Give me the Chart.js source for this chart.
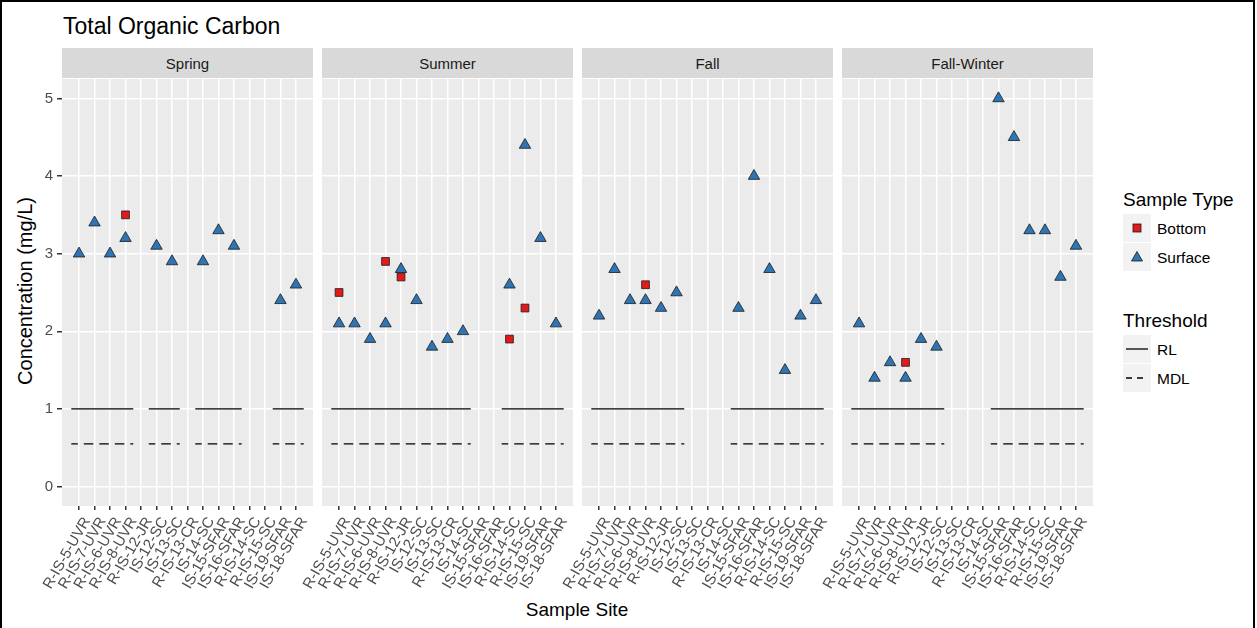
<!DOCTYPE html>
<html>
<head>
<meta charset="utf-8">
<script src="https://cdn.jsdelivr.net/npm/chart.js"></script>
<style>
  body { margin: 0; background: #fff; font-family: "Liberation Sans", Arial, sans-serif; }
  #wrap { position: relative; width: 1257px; height: 628px; overflow: hidden; background: #fff; }
  #frame { position: absolute; left: 0; top: 0; width: 1251px; height: 640px; border: 2px solid #000; }
  canvas { position: absolute; top: 79px; }
  .strip { position: absolute; top: 48px; width: 251px; height: 30px; background: #d9d9d9;
           color: #1a1a1a; font-size: 15px; line-height: 32px; text-align: center; }
  .txt { position: absolute; white-space: nowrap; color: #000; }
  .key { position: absolute; left: 1123px; width: 28px; height: 28px; background: #f2f2f2; }
  .lab { position: absolute; left: 1157px; font-size: 15.5px; line-height: 29px; color: #000; }
</style>
</head>
<body>
<div id="wrap">
  <div id="frame"></div>
  <div class="txt" style="left:63px;top:15px;font-size:23px;line-height:22px;">Total Organic Carbon</div>
  <div class="txt" style="left:-125px;top:281px;width:300px;text-align:center;font-size:20px;line-height:20px;transform:rotate(-90deg);">Concentration (mg/L)</div>
  <div class="txt" style="left:427px;top:600px;width:300px;text-align:center;font-size:19px;line-height:20px;">Sample Site</div>

  <div class="txt" style="left:1123px;top:191px;font-size:19px;line-height:18px;">Sample Type</div>
  <div class="key" style="top:214px;"><svg width="28" height="28"><rect x="10" y="10" width="8" height="8" fill="#e31a1c" stroke="#1a1a1a" stroke-width="0.8"/></svg></div>
  <div class="lab" style="top:214px;">Bottom</div>
  <div class="key" style="top:243px;"><svg width="28" height="28"><polygon points="14,8.5 19.5,18 8.5,18" fill="#2f75b5" stroke="#1a1a1a" stroke-width="0.8"/></svg></div>
  <div class="lab" style="top:243px;">Surface</div>

  <div class="txt" style="left:1123px;top:312px;font-size:19px;line-height:18px;">Threshold</div>
  <div class="key" style="top:335px;"><svg width="28" height="28"><line x1="3" y1="14" x2="25" y2="14" stroke="#000" stroke-width="1.3"/></svg></div>
  <div class="lab" style="top:335px;">RL</div>
  <div class="key" style="top:364px;"><svg width="28" height="28"><line x1="3" y1="14" x2="25" y2="14" stroke="#000" stroke-width="1.3" stroke-dasharray="6 5"/></svg></div>
  <div class="lab" style="top:364px;">MDL</div>
</div>

<script>
const sites = ['R-IS-5-UVR', 'R-IS-7-UVR', 'R-IS-6-UVR', 'R-IS-8-UVR', 'R-IS-12-JR',
  'IS-12-SC', 'IS-13-SC', 'R-IS-13-CR', 'IS-14-SC', 'IS-15-SFAR', 'IS-16-SFAR',
  'R-IS-14-SC', 'R-IS-15-SC', 'IS-19-SFAR', 'IS-18-SFAR'];
const seasons = ['Spring', 'Summer', 'Fall', 'Fall-Winter'];

const surfaceSpring = [3.0, 3.4, 3.0, 3.2, null, 3.1, 2.9, null, 2.9, 3.3, 3.1, null, null, 2.4, 2.6];
const bottomSpring  = [null, null, null, 3.5, null, null, null, null, null, null, null, null, null, null, null];
const surfaceSummer = [2.1, 2.1, 1.9, 2.1, 2.8, 2.4, 1.8, 1.9, 2.0, null, null, 2.6, 4.4, 3.2, 2.1];
const bottomSummer  = [2.5, null, null, 2.9, 2.7, null, null, null, null, null, null, 1.9, 2.3, null, null];
const surfaceFall   = [2.2, 2.8, 2.4, 2.4, 2.3, 2.5, null, null, null, 2.3, 4.0, 2.8, 1.5, 2.2, 2.4];
const bottomFall    = [null, null, null, 2.6, null, null, null, null, null, null, null, null, null, null, null];
const surfaceFallWinter = [2.1, 1.4, 1.6, 1.4, 1.9, 1.8, null, null, null, 5.0, 4.5, 3.3, 3.3, 2.7, 3.1];
const bottomFallWinter  = [null, null, null, 1.6, null, null, null, null, null, null, null, null, null, null, null];

const surfaceBySeason = [surfaceSpring, surfaceSummer, surfaceFall, surfaceFallWinter];
const bottomBySeason = [bottomSpring, bottomSummer, bottomFall, bottomFallWinter];

const RL = 1;
const MDL = 0.55;
const yTicks = [0, 1, 2, 3, 4, 5];

const panelLeft = [62, 322, 582, 842];
const grey = '#4d4d4d';

// panel background
const panelBg = {
  id: 'panelBg',
  beforeDraw: (chart) => {
    const {ctx, chartArea} = chart;
    ctx.save();
    ctx.fillStyle = '#ebebeb';
    ctx.fillRect(chartArea.left, chartArea.top, chartArea.right - chartArea.left, chartArea.bottom - chartArea.top);
    ctx.restore();
  }
};

function points(arr) {
  const out = [];
  arr.forEach((v, i) => { if (v !== null) out.push({x: i, y: v}); });
  return out;
}

// one short segment per sampled site, like an errorbar of width 1
function threshold(level, surf, bot) {
  const out = [];
  for (let i = 0; i < sites.length; i++) {
    if (surf[i] !== null || bot[i] !== null) {
      out.push({x: i - 0.5, y: level}, {x: i + 0.5, y: level}, {x: i + 0.5, y: null});
    }
  }
  return out;
}

const wrap = document.getElementById('wrap');

seasons.forEach((season, p) => {
  const strip = document.createElement('div');
  strip.className = 'strip';
  strip.style.left = panelLeft[p] + 'px';
  strip.textContent = season;
  wrap.appendChild(strip);

  const cv = document.createElement('canvas');
  cv.width = 313;
  cv.height = 549;
  cv.style.left = (panelLeft[p] - 62) + 'px';
  wrap.appendChild(cv);

  const surf = surfaceBySeason[p];
  const bot = bottomBySeason[p];

  new Chart(cv, {
    type: 'scatter',
    data: {
      datasets: [
        {
          label: 'Bottom',
          data: points(bot),
          pointStyle: 'rect',
          pointRadius: 5.5,
          backgroundColor: '#e31a1c',
          borderColor: '#1a1a1a',
          borderWidth: 0.8
        },
        {
          label: 'Surface',
          data: points(surf),
          pointStyle: 'triangle',
          pointRadius: 6.6,
          backgroundColor: '#2f75b5',
          borderColor: '#1a1a1a',
          borderWidth: 0.8
        },
        {
          label: 'RL',
          data: threshold(RL, surf, bot),
          showLine: true,
          spanGaps: false,
          pointRadius: 0,
          borderColor: '#000000',
          borderWidth: 1.3
        },
        {
          label: 'MDL',
          data: threshold(MDL, surf, bot),
          showLine: true,
          spanGaps: false,
          pointRadius: 0,
          borderColor: '#000000',
          borderWidth: 1.3,
          borderDash: [6.5, 6]
        }
      ]
    },
    options: {
      responsive: false,
      animation: false,
      devicePixelRatio: 1,
      layout: { padding: 0, autoPadding: false },
      plugins: { legend: { display: false }, tooltip: { enabled: false } },
      scales: {
        x: {
          type: 'linear',
          min: -1.1,
          max: 15.1,
          afterBuildTicks: (s) => { s.ticks = sites.map((c, i) => ({value: i})); },
          afterFit: (s) => { s.height = 122; s.paddingLeft = 0; s.paddingRight = 0; },
          border: { display: false },
          grid: { color: '#ffffff', lineWidth: 1.5, tickColor: '#333333', tickLength: 4 },
          ticks: {
            autoSkip: false,
            minRotation: 60,
            maxRotation: 60,
            padding: 4,
            labelOffset: 8,
            color: grey,
            font: { family: 'Liberation Sans', size: 15 },
            callback: (v) => sites[v]
          }
        },
        y: {
          type: 'linear',
          min: -0.25,
          max: 5.25,
          afterBuildTicks: (s) => { s.ticks = yTicks.map(v => ({value: v})); },
          afterFit: (s) => { s.width = 62; s.paddingTop = 0; s.paddingBottom = 0; },
          border: { display: false },
          grid: { color: '#ffffff', lineWidth: 1.5, tickColor: p === 0 ? '#333333' : 'rgba(0,0,0,0)', tickLength: 5 },
          ticks: {
            display: p === 0,
            padding: 4,
            color: grey,
            font: { family: 'Liberation Sans', size: 15 }
          }
        }
      }
    },
    plugins: [panelBg]
  });
});
</script>
</body>
</html>
